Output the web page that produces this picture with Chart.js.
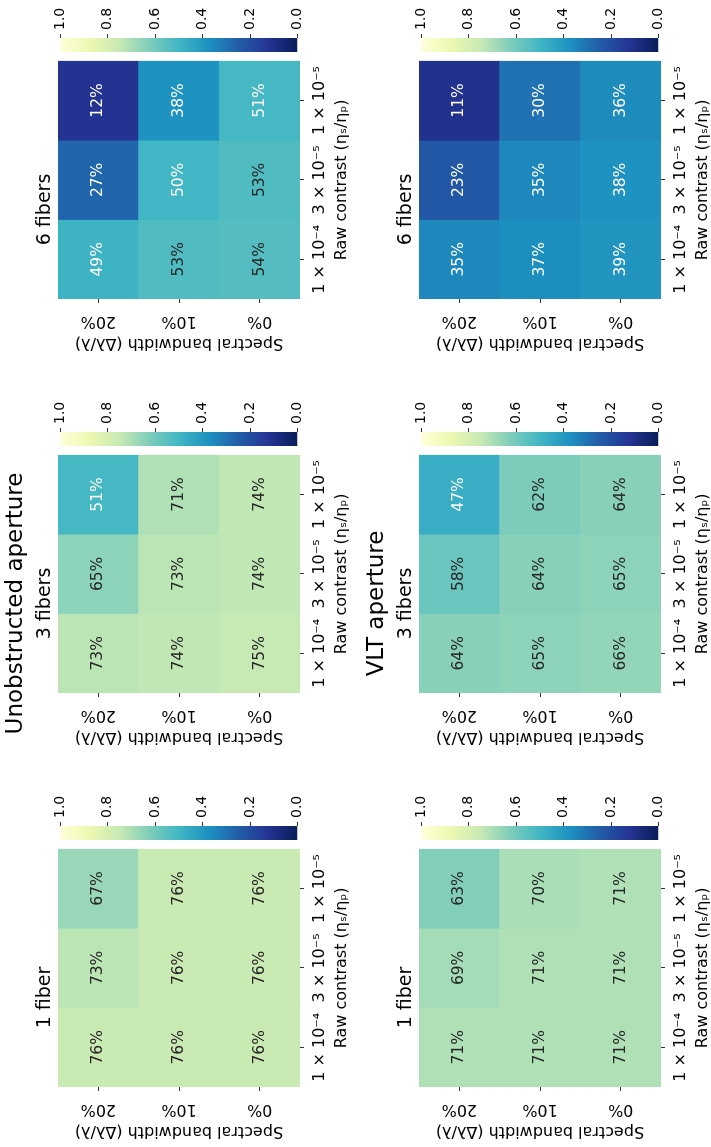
<!DOCTYPE html>
<html lang="en">
<head>
  <meta charset="UTF-8"/>
  <title>Fiber heatmaps</title>
  <script src="https://cdn.jsdelivr.net/npm/chart.js"></script>
  <style>
    html, body { margin: 0; padding: 0; background: #fff; }
    body { width: 711px; height: 1147px; overflow: hidden; position: relative; }
    /* figure is laid out landscape and then turned a quarter turn to the left */
    #figure {
      position: absolute; left: 0; top: 0;
      width: 1147px; height: 711px;
      transform-origin: 0 0;
      transform: translateY(1147px) rotate(-90deg);
    }
    #figure canvas { position: absolute; }
  </style>
</head>
<body>
  <div id="figure"></div>

  <script>
    // Data (percent). Rows top to bottom: 20%, 10%, 0%. Columns: 1e-4, 3e-5, 1e-5
    const contrasts = ['1 × 10⁻⁴', '3 × 10⁻⁵', '1 × 10⁻⁵'];
    const bandwidths = ['20%', '10%', '0%'];
    const colorbarTicks = [0, 0.2, 0.4, 0.6, 0.8, 1.0];

    const unobstructed1 = [[76, 73, 67], [76, 76, 76], [76, 76, 76]];
    const unobstructed3 = [[73, 65, 51], [74, 73, 71], [75, 74, 74]];
    const unobstructed6 = [[49, 27, 12], [53, 50, 38], [54, 53, 51]];
    const vlt1 = [[71, 69, 63], [71, 71, 70], [71, 71, 71]];
    const vlt3 = [[64, 58, 47], [65, 64, 62], [66, 65, 64]];
    const vlt6 = [[35, 23, 11], [37, 35, 30], [39, 38, 36]];

    // YlGnBu (ColorBrewer 9), used reversed
    const ylgnbu = ['#ffffd9', '#edf8b1', '#c7e9b4', '#7fcdbb', '#41b6c4',
                    '#1d91c0', '#225ea8', '#253494', '#081d58'];

    Chart.defaults.font.family = '"DejaVu Sans", sans-serif';
    Chart.defaults.color = '#000';

    // Layout (landscape coordinates)
    const MAP_W = 233, MAP_H = 242;
    const AXIS_W = 60, TITLE_H = 58, XAXIS_H = 52;
    const CB_GAP = 14, CB_W = 14, CB_AXIS_W = 38, CB_PAD = 10;
    const colLeft = [60, 454, 848];
    const rowTop = [58, 419];

    const fig = document.getElementById('figure');

    function hexToRgb(h) {
      return [1, 3, 5].map(i => parseInt(h.slice(i, i + 2), 16));
    }

    // value 0..1 -> YlGnBu_r colour
    function cmapRgb(v) {
      const t = Math.min(1, Math.max(0, 1 - v)) * (ylgnbu.length - 1);
      const i = Math.min(Math.floor(t), ylgnbu.length - 2);
      const f = t - i;
      const a = hexToRgb(ylgnbu[i]), b = hexToRgb(ylgnbu[i + 1]);
      return a.map((c, k) => c + (b[k] - c) * f);
    }
    function cmap(v) {
      const [r, g, b] = cmapRgb(v).map(Math.round);
      return `rgb(${r},${g},${b})`;
    }
    // same rule seaborn uses to pick annotation colour
    function textColor(v) {
      const lum = cmapRgb(v)
        .map(c => c / 255)
        .map(c => c <= 0.03928 ? c / 12.92 : Math.pow((c + 0.055) / 1.055, 2.4));
      const l = 0.2126 * lum[0] + 0.7152 * lum[1] + 0.0722 * lum[2];
      return l > 0.408 ? '#262626' : '#ffffff';
    }

    const annotate = {
      id: 'annotate',
      afterDatasetsDraw(chart) {
        const ctx = chart.ctx;
        ctx.save();
        ctx.font = '15.5px "DejaVu Sans"';
        ctx.textAlign = 'center';
        ctx.textBaseline = 'middle';
        chart.data.datasets.forEach((ds, di) => {
          chart.getDatasetMeta(di).data.forEach((bar, i) => {
            const v = ds.values[i];
            ctx.fillStyle = textColor(v / 100);
            ctx.fillText(v + '%', bar.x, (bar.y + bar.base) / 2);
          });
        });
        ctx.restore();
      }
    };

    const tickGrid = {
      display: true, drawOnChartArea: false, offset: false,
      tickLength: 4, tickWidth: 0.8, tickColor: '#000'
    };

    function addCanvas(left, top, w, h) {
      const c = document.createElement('canvas');
      c.width = w; c.height = h;
      c.style.left = left + 'px';
      c.style.top = top + 'px';
      fig.appendChild(c);
      return c;
    }

    function makeHeatmap(values, title, subtitle, col, row) {
      const left = colLeft[col], top = rowTop[row];
      const canvas = addCanvas(left - AXIS_W, top - TITLE_H,
                               AXIS_W + MAP_W + 6, TITLE_H + MAP_H + XAXIS_H);
      const rows = values.slice().reverse(); // stack from the bottom row up
      const titleOpts = subtitle
        ? { display: true, text: title, font: { size: 23, weight: 'normal' }, padding: { top: 2.7, bottom: 0 } }
        : { display: true, text: title, font: { size: 19, weight: 'normal' }, padding: { top: 33.6, bottom: 1.6 } };
      new Chart(canvas, {
        type: 'bar',
        data: {
          labels: contrasts,
          datasets: rows.map(r => ({
            data: r.map(() => 1),
            values: r,
            backgroundColor: r.map(v => cmap(v / 100)),
            borderWidth: 0,
            barPercentage: 1,
            categoryPercentage: 1
          }))
        },
        options: {
          responsive: false,
          animation: false,
          layout: { padding: 0 },
          plugins: {
            legend: { display: false },
            tooltip: { enabled: false },
            title: titleOpts,
            subtitle: subtitle
              ? { display: true, text: subtitle, color: '#000', font: { size: 19, weight: 'normal' }, padding: { top: 3.3, bottom: 1.6 } }
              : { display: false }
          },
          scales: {
            x: {
              stacked: true,
              offset: true,
              grid: tickGrid,
              border: { display: false },
              ticks: { font: { size: 16 }, padding: 6, maxRotation: 0, autoSkip: false },
              title: { display: true, text: 'Raw contrast (ηₛ/ηₚ)', font: { size: 16 }, padding: { top: 0, bottom: 0.9 } },
              afterFit: s => { s.height = XAXIS_H; }
            },
            y: {
              stacked: true,
              min: 0,
              max: 3,
              afterBuildTicks: s => { s.ticks = [0.5, 1.5, 2.5].map(v => ({ value: v })); },
              grid: tickGrid,
              border: { display: false },
              ticks: {
                callback: v => bandwidths[2 - Math.floor(v)],
                minRotation: 90, maxRotation: 90,
                crossAlign: 'center',
                padding: 0,
                font: { size: 16 }
              },
              title: { display: true, text: 'Spectral bandwidth (Δλ/λ)', font: { size: 16 }, padding: { top: 6, bottom: 0 } },
              afterFit: s => { s.width = AXIS_W; }
            }
          }
        },
        plugins: [annotate]
      });
    }

    function colorbarFill(chart) {
      const area = chart.chartArea;
      if (!area) return null;
      const g = chart.ctx.createLinearGradient(0, area.bottom, 0, area.top);
      const n = ylgnbu.length - 1;
      ylgnbu.forEach((c, i) => g.addColorStop(i / n, ylgnbu[n - i]));
      return g;
    }

    function makeColorbar(col, row) {
      const left = colLeft[col] + MAP_W + CB_GAP, top = rowTop[row];
      const canvas = addCanvas(left, top - CB_PAD, CB_W + CB_AXIS_W, MAP_H + 2 * CB_PAD);
      new Chart(canvas, {
        type: 'bar',
        data: {
          labels: [''],
          datasets: [{
            data: [[0, 1]],
            backgroundColor: ctx => colorbarFill(ctx.chart),
            borderWidth: 0,
            barPercentage: 1,
            categoryPercentage: 1
          }]
        },
        options: {
          responsive: false,
          animation: false,
          layout: { padding: { top: CB_PAD, bottom: CB_PAD } },
          plugins: { legend: { display: false }, tooltip: { enabled: false } },
          scales: {
            x: { display: false },
            y: {
              position: 'right',
              min: 0,
              max: 1,
              afterBuildTicks: s => { s.ticks = colorbarTicks.map(v => ({ value: v })); },
              ticks: { callback: v => v.toFixed(1), padding: 4, font: { size: 14 } },
              grid: tickGrid,
              border: { display: false },
              afterFit: s => { s.width = CB_AXIS_W; }
            }
          }
        }
      });
    }

    makeHeatmap(unobstructed1, '1 fiber', null, 0, 0);
    makeHeatmap(unobstructed3, 'Unobstructed aperture', '3 fibers', 1, 0);
    makeHeatmap(unobstructed6, '6 fibers', null, 2, 0);
    makeHeatmap(vlt1, '1 fiber', null, 0, 1);
    makeHeatmap(vlt3, 'VLT aperture', '3 fibers', 1, 1);
    makeHeatmap(vlt6, '6 fibers', null, 2, 1);
    for (let r = 0; r < 2; r++) {
      for (let c = 0; c < 3; c++) makeColorbar(c, r);
    }
  </script>
</body>
</html>
